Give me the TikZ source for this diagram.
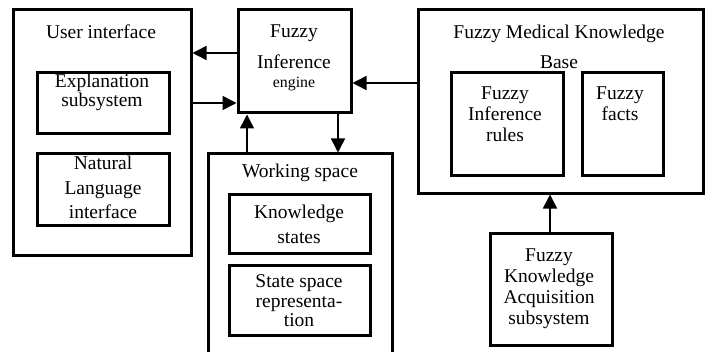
\documentclass[tikz,border=0pt]{standalone}
\usepackage{fontspec}
\setmainfont{Liberation Serif}
\usetikzlibrary{arrows.meta}

\tikzset{
  box/.style 2 args={draw, line width=1.5pt, inner sep=0pt,
    minimum width=#1*0.5pt, minimum height=#2*0.5pt},
  txt/.style={align=center, inner sep=0pt, font=\fontsize{9.75}{10.5}\selectfont},
  arr/.style={line width=0.75pt, -{Triangle[length=7pt,width=7pt]}}
}

\begin{document}
\begin{tikzpicture}[x=0.5pt,y=-0.5pt]
        \useasboundingbox (0,0) rectangle (710,352);

        % user interface
        \node[box={178}{245}] (ui) at (102,132.5) {};
        \node[box={132}{61}] (expl) at (103,103.5) {};
        \node[box={132}{71}] (nat) at (103,189.5) {};
        \node[txt] (uitxt) at (101,32) {User interface};
        \node[txt, font=\fontsize{9.75}{9.5}\selectfont] (expltxt) at (102,92.5) {Explanation\\subsystem};
        \node[txt, font=\fontsize{9.75}{12.25}\selectfont] (nattxt) at (103,187.5) {Natural\\Language\\interface};

        % inference engine
        \node[box={113}{103}] (fie) at (294.5,61.5) {};
        \node[txt] (fietxt) at (294,58) {Fuzzy\\[5pt]Inference\\[-1pt]{\fontsize{7.9}{9}\selectfont engine}};

        % working space
        \node[box={184}{206}] (ws) at (300,257) {};
        \node[box={141}{59}] (ks) at (299.5,223.5) {};
        \node[box={141}{70}] (ssr) at (299.5,300) {};
        \node[txt] (wstxt) at (300,173) {Working space};
        \node[txt, font=\fontsize{9.75}{12.5}\selectfont] (kstxt) at (299,224.5) {Knowledge\\states};
        \node[txt, font=\fontsize{9.75}{9.75}\selectfont] (ssrtxt) at (299,301) {State space\\representa-\\tion};

        % knowledge base
        \node[box={285}{183}] (kb) at (560.5,101.5) {};
        \node[box={112}{102}] (rules) at (507,124) {};
        \node[box={81}{102}] (facts) at (622.5,124) {};
        \node[txt, font=\fontsize{9.75}{15}\selectfont] (kbtxt) at (559,47) {Fuzzy Medical Knowledge\\Base};
        \node[txt] (rulestxt) at (505,114) {Fuzzy\\Inference\\rules};
        \node[txt] (factstxt) at (620,104) {Fuzzy\\facts};

        % acquisition
        \node[box={122}{112}] (acq) at (551,289) {};
        \node[txt] (acqtxt) at (549,288.5) {Fuzzy\\Knowledge\\Acquisition\\subsystem};

        % arrows
        \draw[arr] (fie.west |- 0,53) -- (ui.east |- 0,53);
        \draw[arr] (ui.east |- 0,103) -- (fie.west |- 0,103);
        \draw[arr] (ws.north -| 247,0) -- (fie.south -| 247,0);
        \draw[arr] (fie.south -| 338,0) -- (ws.north -| 338,0);
        \draw[arr] (kb.west |- 0,83) -- (fie.east |- 0,83);
        \draw[arr] (acq.north -| 550,0) -- (kb.south -| 550,0);
\end{tikzpicture}
\end{document}
